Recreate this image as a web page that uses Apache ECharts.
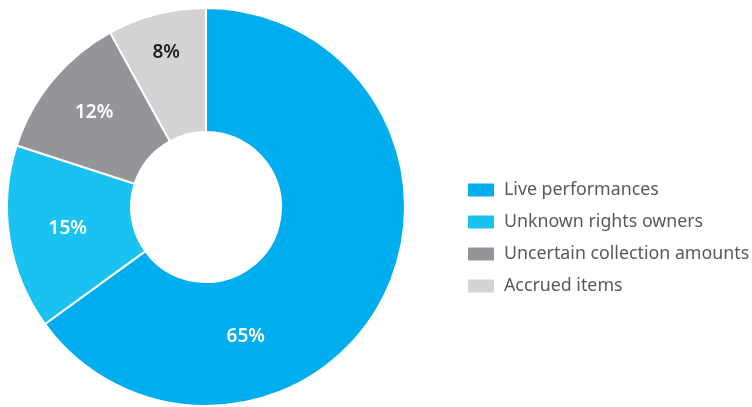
<!DOCTYPE html>
<html>
<head>
<meta charset="utf-8">
<script src="https://cdn.jsdelivr.net/npm/echarts@6/dist/echarts.min.js"></script>
<style>
  html, body { margin: 0; padding: 0; background: #fff; }
  #chart { width: 752px; height: 407px; }
</style>
</head>
<body>
<div id="chart"></div>
<script>
// Share of provisions by category
const categories = ['Live performances', 'Unknown rights owners', 'Uncertain collection amounts', 'Accrued items'];
const shares = [65, 15, 12, 8];
const sliceColors = ['#00AEEF', '#19C2F1', '#939598', '#D1D3D4'];
const labelColors = ['#ffffff', '#ffffff', '#ffffff', '#231F20'];
// label nudges from the default inside position
const labelNudge = [[-85, 66], [0, 0], [-4, -5], [-5, -19]];

const chart = echarts.init(document.getElementById('chart'), null, { renderer: 'canvas' });

chart.setOption({
  animation: false,
  legend: {
    orient: 'vertical',
    left: 466,
    top: 181,
    padding: 0,
    itemWidth: 28,
    itemHeight: 15,
    itemGap: 14,
    icon: 'rect',
    selectedMode: false,
    textStyle: {
      fontFamily: 'Noto Sans',
      fontSize: 17.8,
      color: '#58595B',
      padding: [0, 0, 0, 4]
    },
    data: categories
  },
  series: [{
    type: 'pie',
    center: [206, 207],
    radius: [75, 199],
    startAngle: 90,
    clockwise: true,
    avoidLabelOverlap: false,
    itemStyle: { borderColor: '#ffffff', borderWidth: 2 },
    label: {
      show: true,
      position: 'inside',
      formatter: '{c}%',
      fontFamily: 'Noto Sans',
      fontSize: 19,
      fontWeight: 600
    },
    labelLine: { show: false },
    emphasis: { disabled: true },
    labelLayout: function (p) {
      const n = labelNudge[p.dataIndex];
      return { dx: n[0], dy: n[1] };
    },
    data: categories.map((name, i) => ({
      name: name,
      value: shares[i],
      itemStyle: { color: sliceColors[i] },
      label: { color: labelColors[i] }
    }))
  }]
});
</script>
</body>
</html>
